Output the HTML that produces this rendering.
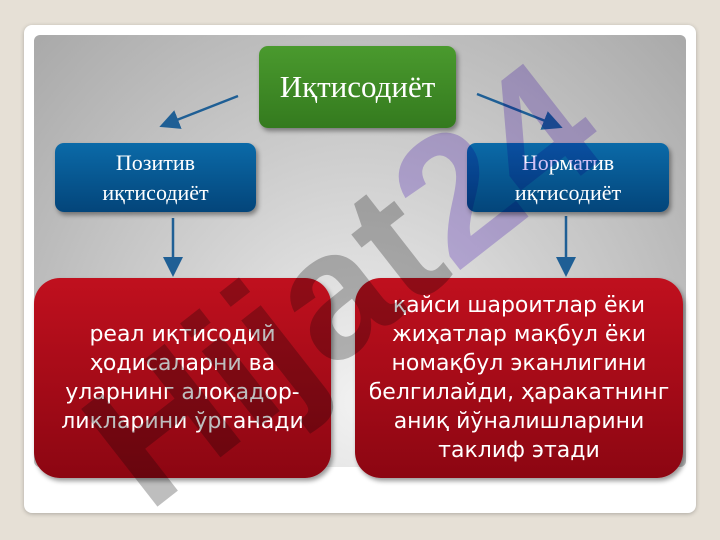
<!DOCTYPE html>
<html style="overflow:hidden"><head><meta charset="utf-8"><style>
html,body{overflow:hidden}
body{margin:0;width:720px;height:540px;background:#e6e0d6;position:relative;overflow:hidden;font-family:"Liberation Sans","DejaVu Sans",sans-serif}
.card{position:absolute;left:24px;top:25px;width:672px;height:488px;background:#fff;border-radius:8px;box-shadow:0 1px 4px rgba(0,0,0,.25)}
.panel{position:absolute;left:34px;top:35px;width:652px;height:432px;border-radius:6px;background:radial-gradient(ellipse at 50% 85%,#f2f2f2 0%,#d0d0d0 45%,#a9a9a9 100%)}
.box{position:absolute;display:flex;align-items:center;justify-content:center;text-align:center;color:#fff;box-shadow:2px 3px 5px rgba(0,0,0,.4)}
.g{left:259px;top:46px;width:197px;height:82px;border-radius:9px;background:linear-gradient(#4a9a2e,#347a1e);font-family:"Liberation Serif",serif;font-size:31px}
.b{top:143px;height:69px;border-radius:9px;background:linear-gradient(#0b6aa8,#03457a);font-family:"Liberation Serif",serif;font-size:22px;line-height:30px}
.r{top:278px;height:200px;border-radius:26px;background:linear-gradient(#c0101e,#8c0612);font-family:"DejaVu Sans",sans-serif;font-size:22px;line-height:29px}
svg{position:absolute;left:0;top:0}
.wm{position:absolute;font:bold 180px "Liberation Sans",sans-serif;transform:rotate(-38deg);transform-origin:0 0;white-space:nowrap;mix-blend-mode:multiply;line-height:1}
</style></head><body>
<div class="card"></div>
<div class="panel"></div>
<svg width="720" height="540">
<defs><marker id="a" markerWidth="8" markerHeight="8" refX="6" refY="4" orient="auto"><path d="M0,0L8,4L0,8z" fill="#1f5f95"/></marker></defs>
<g stroke="#1f5f95" stroke-width="2.5" marker-end="url(#a)">
<line x1="238" y1="96" x2="164" y2="125"/>
<line x1="477" y1="94" x2="558" y2="126"/>
<line x1="173" y1="218" x2="173" y2="272"/>
<line x1="566" y1="216" x2="566" y2="272"/>
</g></svg>
<div class="box g">Иқтисодиёт</div>
<div class="box b" style="left:55px;width:201px">Позитив<br>иқтисодиёт</div>
<div class="box b" style="left:467px;width:202px">Норматив<br>иқтисодиёт</div>
<div class="box r" style="left:34px;width:297px">реал иқтисодий<br>ҳодисаларни ва<br>уларнинг алоқадор-<br>ликларини ўрганади</div>
<div class="box r" style="left:355px;width:328px">қайси шароитлар ёки<br>жиҳатлар мақбул ёки<br>номақбул эканлигини<br>белгилайди, ҳаракатнинг<br>аниқ йўналишларини<br>таклиф этади</div>
<div class="wm" style="left:55px;top:395px"><span style="color:rgba(110,110,110,.45)">Hijat</span><span style="color:rgba(170,140,235,.55)">24</span></div>
</body></html>
